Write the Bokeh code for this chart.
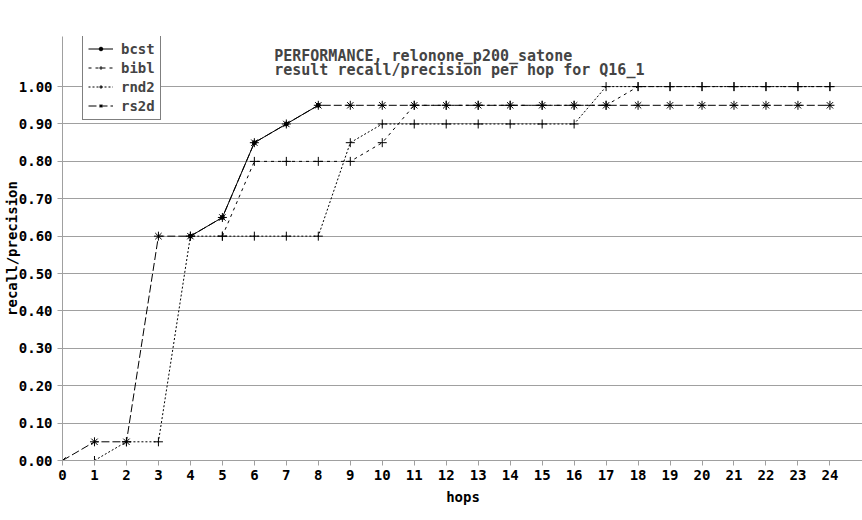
from bokeh.plotting import figure
from bokeh.models import Range1d, FixedTicker, PrintfTickFormatter, Legend, LegendItem, Label
from bokeh.embed import file_html
from bokeh.resources import INLINE

# ---- data ----
hops = [0, 1, 2, 3, 4, 5, 6, 7, 8, 9, 10, 11, 12, 13, 14, 15, 16, 17, 18, 19, 20, 21, 22, 23, 24]

bcst_hops = [4, 5, 6, 7, 8]
bcst = [0.60, 0.65, 0.85, 0.90, 0.95]

bibl_hops = [5, 6, 7, 8, 9, 10, 11, 12, 13, 14, 15, 16, 17, 18, 19, 20, 21, 22, 23, 24]
bibl = [0.60, 0.80, 0.80, 0.80, 0.80, 0.85, 0.95, 0.95, 0.95, 0.95, 0.95, 0.95, 0.95,
        1.00, 1.00, 1.00, 1.00, 1.00, 1.00, 1.00]

rnd2 = [0.00, 0.00, 0.05, 0.05, 0.60, 0.60, 0.60, 0.60, 0.60, 0.85, 0.90, 0.90, 0.90,
        0.90, 0.90, 0.90, 0.90, 1.00, 1.00, 1.00, 1.00, 1.00, 1.00, 1.00, 1.00]

rs2d = [0.00, 0.05, 0.05, 0.60, 0.60, 0.65, 0.85, 0.90, 0.95, 0.95, 0.95, 0.95, 0.95,
        0.95, 0.95, 0.95, 0.95, 0.95, 0.95, 0.95, 0.95, 0.95, 0.95, 0.95, 0.95]

y_ticks = [0.0, 0.1, 0.2, 0.3, 0.4, 0.5, 0.6, 0.7, 0.8, 0.9, 1.0]
x_ticks = hops

title_lines = ["PERFORMANCE, relonone_p200_satone",
               "result recall/precision per hop for Q16_1"]
x_label = "hops"
y_label = "recall/precision"

FONT = "DejaVu Sans Mono"
GRAY = "#a0a0a0"

p = figure(frame_width=801, frame_height=424,
           min_border_left=61, min_border_right=0, min_border_top=36, min_border_bottom=59,
           x_range=Range1d(0, 25.05), y_range=Range1d(0, 1.134),
           output_backend="svg", toolbar_location=None)
p.outline_line_color = None
p.background_fill_color = "white"
p.border_fill_color = "white"

p.xgrid.visible = False
p.ygrid.grid_line_color = GRAY

p.xaxis.ticker = FixedTicker(ticks=x_ticks)
p.yaxis.ticker = FixedTicker(ticks=y_ticks)
p.yaxis.formatter = PrintfTickFormatter(format="%.2f")

for ax in (p.xaxis[0], p.yaxis[0]):
    ax.axis_line_color = GRAY
    ax.major_tick_line_color = GRAY
    ax.major_tick_out = 5
    ax.major_tick_in = 0
    ax.minor_tick_line_color = None
    ax.major_label_text_font = FONT
    ax.major_label_text_font_size = "14px"
    ax.major_label_text_font_style = "bold"
    ax.major_label_text_color = "black"
    ax.axis_label_text_font = FONT
    ax.axis_label_text_font_size = "14px"
    ax.axis_label_text_font_style = "bold"
    ax.axis_label_text_color = "black"

p.xaxis.major_label_standoff = 4
p.yaxis.major_label_standoff = 5
p.xaxis.axis_label = x_label
p.xaxis.axis_label_standoff = 6
p.yaxis.axis_label = y_label
p.yaxis.axis_label_standoff = -4

# ---- series ----
r_bcst_l = p.line(bcst_hops, bcst, line_color="black", line_width=1)
r_bcst_m = p.scatter(bcst_hops, bcst, marker="circle", size=4, fill_color="black", line_color="black")

r_bibl_l = p.line(bibl_hops, bibl, line_color="black", line_width=1, line_dash="3 4")
r_bibl_m = p.scatter(bibl_hops, bibl, marker="cross", size=9, line_color="black", line_width=1)

r_rnd2_l = p.line(hops, rnd2, line_color="black", line_width=1, line_dash="2 2")
r_rnd2_m = p.scatter(hops, rnd2, marker="cross", size=9, line_color="black", line_width=1)

r_rs2d_l = p.line(hops, rs2d, line_color="black", line_width=1, line_dash="8 3")
r_rs2d_m = p.scatter(hops, rs2d, marker="asterisk", size=9, line_color="black", line_width=1)

legend = Legend(items=[
    LegendItem(label="bcst", renderers=[r_bcst_l, r_bcst_m]),
    LegendItem(label="bibl", renderers=[r_bibl_l, r_bibl_m]),
    LegendItem(label="rnd2", renderers=[r_rnd2_l, r_rnd2_m]),
    LegendItem(label="rs2d", renderers=[r_rs2d_l, r_rs2d_m]),
], location=(20, 340), margin=0, padding=5, spacing=2,
    glyph_width=25, glyph_height=9, label_height=17, label_standoff=8,
    label_text_font=FONT, label_text_font_size="14px", label_text_font_style="bold",
    border_line_color="black", border_line_width=1,
    background_fill_color="white", background_fill_alpha=1.0)
p.add_layout(legend)

# ---- title (two lines) ----
p.add_layout(Label(x=6.62, y=1.0816, text=title_lines[0], text_font=FONT,
                   text_font_size="15px", text_font_style="bold",
                   text_align="left", text_baseline="alphabetic"))
p.add_layout(Label(x=6.62, y=1.044, text=title_lines[1], text_font=FONT,
                   text_font_size="15px", text_font_style="bold",
                   text_align="left", text_baseline="alphabetic"))

open("out.html", "w").write(file_html(p, INLINE))
